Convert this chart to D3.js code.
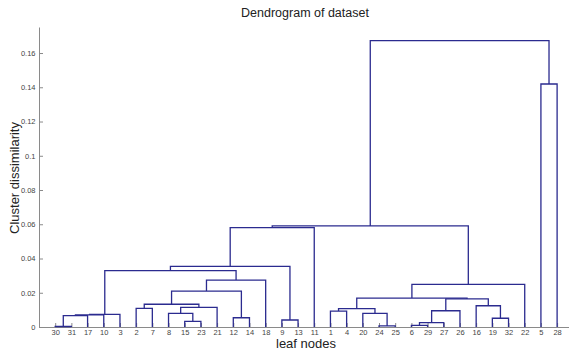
<!DOCTYPE html>
<html>
<head>
<meta charset="utf-8">
<script src="https://cdn.jsdelivr.net/npm/d3@7"></script>
<style>
  body { margin: 0; background: #fff; }
  svg { display: block; font-family: "Liberation Sans", Arial, sans-serif; }
</style>
</head>
<body>
<svg id="chart" width="569" height="351"></svg>
<script>
// leaf order along the x axis (tick labels)
var leafOrder = [30, 31, 17, 10, 3, 2, 7, 8, 15, 23, 21, 12, 14, 18, 9, 13, 11,
                 1, 4, 20, 24, 25, 6, 29, 27, 26, 16, 19, 32, 22, 5, 28];

// linkage: node 33 + i joins mergeA[i] and mergeB[i] at mergeHeight[i]
var mergeA = [30, 24, 6, 35, 15, 9, 19, 12, 33, 41, 42, 8, 20, 1, 36, 46,
              2, 44, 16, 49, 47, 48, 52, 54, 55, 43, 58, 59, 60, 5, 61];
var mergeB = [31, 25, 29, 27, 23, 13, 32, 14, 17, 10, 3, 37, 34, 4, 26, 45,
              7, 21, 39, 50, 51, 53, 40, 22, 18, 57, 38, 11, 56, 28, 62];
var mergeHeight = [0.0003, 0.0006, 0.0010, 0.0025, 0.0033, 0.0041, 0.0051, 0.0054,
                   0.0067, 0.0071, 0.0074, 0.0080, 0.0080, 0.0093, 0.0095, 0.0107,
                   0.0109, 0.0115, 0.0124, 0.0133, 0.0164, 0.0169, 0.0210, 0.0249,
                   0.0274, 0.0329, 0.0354, 0.0580, 0.0590, 0.1419, 0.1672];

var yTicks = [0, 0.02, 0.04, 0.06, 0.08, 0.1, 0.12, 0.14, 0.16];

var svg = d3.select("#chart");
var nLeaf = leafOrder.length;

var x = d3.scaleLinear().domain([0, nLeaf + 1]).range([39, 573.3]);
var y = d3.scaleLinear().domain([0, 0.1752]).range([327, 27]);

// node positions: leaves by their order, merges at mean of children
var pos = {};
leafOrder.forEach(function(id, i) { pos[id] = { x: i + 1, h: 0 }; });
mergeA.forEach(function(a, i) {
    var b = mergeB[i];
    pos[nLeaf + 1 + i] = { x: (pos[a].x + pos[b].x) / 2, h: mergeHeight[i] };
});

var g = svg.append("g");
mergeA.forEach(function(a, i) {
    var b = mergeB[i], h = mergeHeight[i];
    var pts = [[pos[a].x, pos[a].h], [pos[a].x, h], [pos[b].x, h], [pos[b].x, pos[b].h]];
    g.append("path")
        .attr("d", d3.line().x(function(d) { return x(d[0]); }).y(function(d) { return y(d[1]); })(pts))
        .attr("fill", "none")
        .attr("stroke", "#2b2b8f")
        .attr("stroke-width", 1.3);
});

// axes
var yAxis = d3.axisLeft(y).tickValues(yTicks).tickSize(-4).tickSizeOuter(0).tickPadding(3.5)
    .tickFormat(d3.format("~g"));
var xAxis = d3.axisBottom(x).tickValues(d3.range(1, nLeaf + 1)).tickSize(-4).tickSizeOuter(0).tickPadding(3)
    .tickFormat(function(i) { return leafOrder[i - 1]; });

var gy = svg.append("g").attr("transform", "translate(" + x(0) + ",0)").call(yAxis);
var gx = svg.append("g").attr("transform", "translate(0," + y(0) + ")").call(xAxis);
// ticks sit under the links
gx.lower(); gy.lower();

[gx, gy].forEach(function(ax) {
    ax.select(".domain").attr("stroke", "#8a8a8a");
    ax.selectAll(".tick line").attr("stroke", "#8a8a8a");
    ax.selectAll(".tick text").attr("fill", "#444").style("font-size", "7.5px");
});

svg.append("text")
    .attr("x", 305).attr("y", 17)
    .attr("text-anchor", "middle")
    .style("font-size", "12.5px").attr("fill", "#222")
    .text("Dendrogram of dataset");

svg.append("text")
    .attr("x", 306).attr("y", 348)
    .attr("text-anchor", "middle")
    .style("font-size", "13px").attr("fill", "#222")
    .text("leaf nodes");

svg.append("text")
    .attr("transform", "translate(19,178) rotate(-90)")
    .attr("text-anchor", "middle")
    .style("font-size", "13px").attr("fill", "#222")
    .text("Cluster dissimilarity");
</script>
</body>
</html>
